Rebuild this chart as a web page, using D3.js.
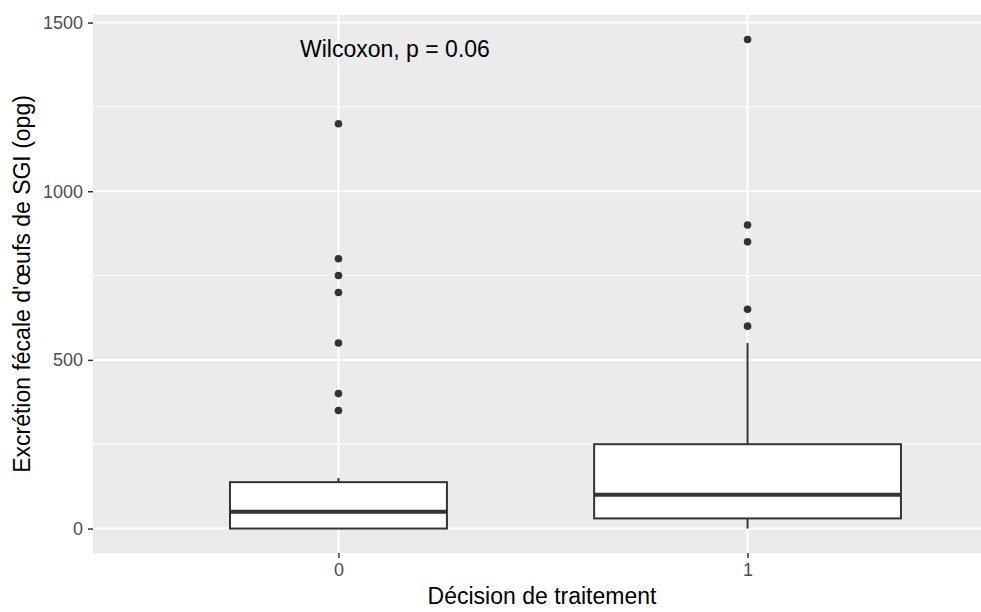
<!DOCTYPE html>
<html>
<head>
<meta charset="utf-8">
<script src="https://cdn.jsdelivr.net/npm/d3@7"></script>
<style>
  body { margin: 0; background: #fff; }
  svg { display: block; font-family: "Liberation Sans", Arial, sans-serif; }
</style>
</head>
<body>
<svg id="chart" width="981" height="612"></svg>
<script>
// data
const groups = ['0', '1']
const q1 = [0, 30]
const medians = [50, 100]
const q3 = [137.5, 250]
const whiskerLow = [0, 0]
const whiskerHigh = [150, 550]
const counts = [35, 70] // only used for varwidth ratio
const outliers = [
  [350, 400, 550, 700, 750, 800, 1200],
  [600, 650, 850, 900, 1450]
]
const yTicks = [0, 500, 1000, 1500]
const yMinor = [250, 750, 1250]
const label = 'Wilcoxon, p = 0.06'

const svg = d3.select('#chart')
const panelLeft = 93, panelTop = 15, panelW = 900, panelBottom = 553

// discrete x with ggplot-like 0.6 expansion
const x = d3.scaleLinear().domain([0.4, 2.6]).range([panelLeft, panelLeft + panelW])
const y = d3.scaleLinear().domain([-72.5, 1522.5]).range([panelBottom, panelTop])

svg.append('rect')
  .attr('x', panelLeft).attr('y', panelTop)
  .attr('width', panelW).attr('height', panelBottom - panelTop)
  .attr('fill', '#EBEBEB')

// grid
svg.selectAll('.minor').data(yMinor).enter().append('line')
  .attr('x1', panelLeft).attr('x2', panelLeft + panelW)
  .attr('y1', d => y(d)).attr('y2', d => y(d))
  .attr('stroke', '#fff').attr('stroke-width', 1)
svg.selectAll('.major').data(yTicks).enter().append('line')
  .attr('x1', panelLeft).attr('x2', panelLeft + panelW)
  .attr('y1', d => y(d)).attr('y2', d => y(d))
  .attr('stroke', '#fff').attr('stroke-width', 2)
svg.selectAll('.vmajor').data(groups).enter().append('line')
  .attr('x1', (d, i) => x(i + 1)).attr('x2', (d, i) => x(i + 1))
  .attr('y1', panelTop).attr('y2', panelBottom)
  .attr('stroke', '#fff').attr('stroke-width', 2)

// boxes
const maxN = d3.max(counts)
const unit = x(2) - x(1)
groups.forEach((g, i) => {
  const cx = x(i + 1)
  const w = 0.75 * Math.sqrt(counts[i] / maxN) * unit
  const grp = svg.append('g')
  grp.append('line')
    .attr('x1', cx).attr('x2', cx)
    .attr('y1', y(q3[i])).attr('y2', y(whiskerHigh[i]))
    .attr('stroke', '#333').attr('stroke-width', 2)
  grp.append('line')
    .attr('x1', cx).attr('x2', cx)
    .attr('y1', y(q1[i])).attr('y2', y(whiskerLow[i]))
    .attr('stroke', '#333').attr('stroke-width', 2)
  grp.append('rect')
    .attr('x', cx - w / 2).attr('y', y(q3[i]))
    .attr('width', w).attr('height', y(q1[i]) - y(q3[i]))
    .attr('fill', '#fff').attr('stroke', '#333').attr('stroke-width', 2)
  grp.append('line')
    .attr('x1', cx - w / 2).attr('x2', cx + w / 2)
    .attr('y1', y(medians[i])).attr('y2', y(medians[i]))
    .attr('stroke', '#333').attr('stroke-width', 4)
  grp.selectAll('circle').data(outliers[i]).enter().append('circle')
    .attr('cx', cx).attr('cy', d => y(d)).attr('r', 3.8)
    .attr('fill', '#333')
})

// axes
const yAxis = svg.append('g').attr('transform', `translate(${panelLeft},0)`)
  .call(d3.axisLeft(y).tickValues(yTicks).tickFormat(d3.format('d')).tickSize(5).tickPadding(5))
yAxis.select('.domain').remove()
yAxis.selectAll('line').attr('stroke', '#333').attr('stroke-width', 1.5)
yAxis.selectAll('text').attr('fill', '#4D4D4D').style('font-size', '18px')
  .style('font-family', '"Liberation Sans", Arial, sans-serif')

const xAxis = svg.append('g').attr('transform', `translate(0,${panelBottom})`)
  .call(d3.axisBottom(x).tickValues([1, 2]).tickFormat((d, i) => groups[i]).tickSize(5).tickPadding(5))
xAxis.select('.domain').remove()
xAxis.selectAll('line').attr('stroke', '#333').attr('stroke-width', 1.5)
xAxis.selectAll('text').attr('fill', '#4D4D4D').style('font-size', '18px')
  .style('font-family', '"Liberation Sans", Arial, sans-serif')

// titles
svg.append('text')
  .attr('x', 542).attr('y', 604)
  .attr('text-anchor', 'middle')
  .style('font-size', '23px').attr('fill', '#000')
  .text('Décision de traitement')

svg.append('text')
  .attr('transform', `translate(30,${(panelTop + panelBottom) / 2}) rotate(-90)`)
  .attr('text-anchor', 'middle')
  .style('font-size', '23px').attr('fill', '#000')
  .text("Excrétion fécale d'œufs de SGI (opg)")

svg.append('text')
  .attr('x', 300).attr('y', 57)
  .style('font-size', '23px').attr('fill', '#000')
  .text(label)
</script>
</body>
</html>
